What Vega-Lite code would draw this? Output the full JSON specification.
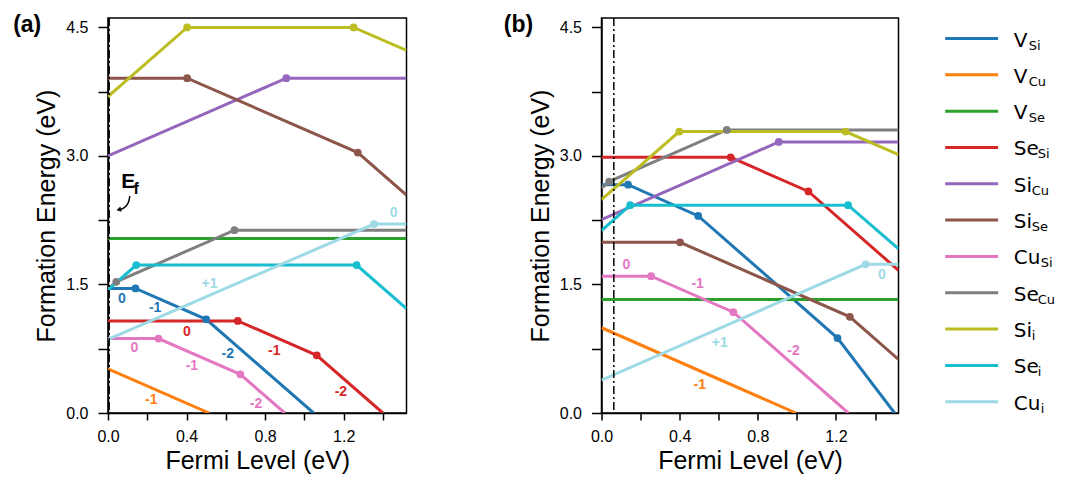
{
  "$schema": "https://vega.github.io/schema/vega-lite/v6.json",
  "padding": {"left": 12, "top": 13, "right": 0, "bottom": 0},
  "background": "white",
  "config": {
    "font": "Liberation Sans",
    "view": {"stroke": "black", "strokeWidth": 1.5},
    "axis": {"grid": false, "domainColor": "black", "domainWidth": 1.5, "tickColor": "black", "tickWidth": 1.5, "labelColor": "black", "labelFont": "Liberation Sans", "labelFontSize": 16, "titleFont": "Liberation Sans", "titleFontSize": 25, "titleFontWeight": "normal", "titleColor": "black"}
  },
  "datasets": {
    "lines": [
      {"panel": "a", "defect": "V_Si", "fermi": 0, "energy": 1.454, "transition": false},
      {"panel": "a", "defect": "V_Si", "fermi": 0.14, "energy": 1.454, "transition": true},
      {"panel": "a", "defect": "V_Si", "fermi": 0.5, "energy": 1.094, "transition": true},
      {"panel": "a", "defect": "V_Si", "fermi": 1.047, "energy": 0, "transition": false},
      {"panel": "a", "defect": "V_Cu", "fermi": 0, "energy": 0.515, "transition": false},
      {"panel": "a", "defect": "V_Cu", "fermi": 0.515, "energy": 0, "transition": false},
      {"panel": "a", "defect": "V_Se", "fermi": 0, "energy": 2.038, "transition": false},
      {"panel": "a", "defect": "V_Se", "fermi": 1.52, "energy": 2.038, "transition": false},
      {"panel": "a", "defect": "Se_Si", "fermi": 0, "energy": 1.075, "transition": false},
      {"panel": "a", "defect": "Se_Si", "fermi": 0.661, "energy": 1.075, "transition": true},
      {"panel": "a", "defect": "Se_Si", "fermi": 1.063, "energy": 0.673, "transition": true},
      {"panel": "a", "defect": "Se_Si", "fermi": 1.3995, "energy": 0, "transition": false},
      {"panel": "a", "defect": "Si_Cu", "fermi": 0, "energy": 3.0, "transition": false},
      {"panel": "a", "defect": "Si_Cu", "fermi": 0.908, "energy": 3.908, "transition": true},
      {"panel": "a", "defect": "Si_Cu", "fermi": 1.52, "energy": 3.908, "transition": false},
      {"panel": "a", "defect": "Si_Se", "fermi": 0, "energy": 3.908, "transition": false},
      {"panel": "a", "defect": "Si_Se", "fermi": 0.403, "energy": 3.908, "transition": true},
      {"panel": "a", "defect": "Si_Se", "fermi": 1.272, "energy": 3.039, "transition": true},
      {"panel": "a", "defect": "Si_Se", "fermi": 1.52, "energy": 2.543, "transition": false},
      {"panel": "a", "defect": "Cu_Si", "fermi": 0, "energy": 0.869, "transition": false},
      {"panel": "a", "defect": "Cu_Si", "fermi": 0.257, "energy": 0.869, "transition": true},
      {"panel": "a", "defect": "Cu_Si", "fermi": 0.674, "energy": 0.452, "transition": true},
      {"panel": "a", "defect": "Cu_Si", "fermi": 0.9, "energy": 0, "transition": false},
      {"panel": "a", "defect": "Se_Cu", "fermi": 0, "energy": 1.447, "transition": false},
      {"panel": "a", "defect": "Se_Cu", "fermi": 0.042, "energy": 1.531, "transition": true},
      {"panel": "a", "defect": "Se_Cu", "fermi": 0.644, "energy": 2.133, "transition": true},
      {"panel": "a", "defect": "Se_Cu", "fermi": 1.52, "energy": 2.133, "transition": false},
      {"panel": "a", "defect": "Si_i", "fermi": 0, "energy": 3.693, "transition": false},
      {"panel": "a", "defect": "Si_i", "fermi": 0.403, "energy": 4.5, "transition": true},
      {"panel": "a", "defect": "Si_i", "fermi": 1.251, "energy": 4.5, "transition": true},
      {"panel": "a", "defect": "Si_i", "fermi": 1.52, "energy": 4.231, "transition": false},
      {"panel": "a", "defect": "Se_i", "fermi": 0, "energy": 1.438, "transition": false},
      {"panel": "a", "defect": "Se_i", "fermi": 0.144, "energy": 1.726, "transition": true},
      {"panel": "a", "defect": "Se_i", "fermi": 1.266, "energy": 1.726, "transition": true},
      {"panel": "a", "defect": "Se_i", "fermi": 1.52, "energy": 1.218, "transition": false},
      {"panel": "a", "defect": "Cu_i", "fermi": 0, "energy": 0.86, "transition": false},
      {"panel": "a", "defect": "Cu_i", "fermi": 1.355, "energy": 2.205, "transition": true},
      {"panel": "a", "defect": "Cu_i", "fermi": 1.52, "energy": 2.205, "transition": false},
      {"panel": "b", "defect": "V_Si", "fermi": 0, "energy": 2.665, "transition": false},
      {"panel": "b", "defect": "V_Si", "fermi": 0.136, "energy": 2.665, "transition": true},
      {"panel": "b", "defect": "V_Si", "fermi": 0.495, "energy": 2.3, "transition": true},
      {"panel": "b", "defect": "V_Si", "fermi": 1.208, "energy": 0.875, "transition": true},
      {"panel": "b", "defect": "V_Si", "fermi": 1.5, "energy": 0, "transition": false},
      {"panel": "b", "defect": "V_Cu", "fermi": 0, "energy": 0.995, "transition": false},
      {"panel": "b", "defect": "V_Cu", "fermi": 0.995, "energy": 0, "transition": false},
      {"panel": "b", "defect": "V_Se", "fermi": 0, "energy": 1.326, "transition": false},
      {"panel": "b", "defect": "V_Se", "fermi": 1.52, "energy": 1.326, "transition": false},
      {"panel": "b", "defect": "Se_Si", "fermi": 0, "energy": 2.984, "transition": false},
      {"panel": "b", "defect": "Se_Si", "fermi": 0.661, "energy": 2.984, "transition": true},
      {"panel": "b", "defect": "Se_Si", "fermi": 1.059, "energy": 2.586, "transition": true},
      {"panel": "b", "defect": "Se_Si", "fermi": 1.52, "energy": 1.664, "transition": false},
      {"panel": "b", "defect": "Si_Cu", "fermi": 0, "energy": 2.256, "transition": false},
      {"panel": "b", "defect": "Si_Cu", "fermi": 0.907, "energy": 3.163, "transition": true},
      {"panel": "b", "defect": "Si_Cu", "fermi": 1.52, "energy": 3.163, "transition": false},
      {"panel": "b", "defect": "Si_Se", "fermi": 0, "energy": 1.992, "transition": false},
      {"panel": "b", "defect": "Si_Se", "fermi": 0.402, "energy": 1.992, "transition": true},
      {"panel": "b", "defect": "Si_Se", "fermi": 1.271, "energy": 1.123, "transition": true},
      {"panel": "b", "defect": "Si_Se", "fermi": 1.52, "energy": 0.625, "transition": false},
      {"panel": "b", "defect": "Cu_Si", "fermi": 0, "energy": 1.597, "transition": false},
      {"panel": "b", "defect": "Cu_Si", "fermi": 0.254, "energy": 1.597, "transition": true},
      {"panel": "b", "defect": "Cu_Si", "fermi": 0.675, "energy": 1.176, "transition": true},
      {"panel": "b", "defect": "Cu_Si", "fermi": 1.263, "energy": 0, "transition": false},
      {"panel": "b", "defect": "Se_Cu", "fermi": 0, "energy": 2.623, "transition": false},
      {"panel": "b", "defect": "Se_Cu", "fermi": 0.039, "energy": 2.701, "transition": true},
      {"panel": "b", "defect": "Se_Cu", "fermi": 0.641, "energy": 3.303, "transition": true},
      {"panel": "b", "defect": "Se_Cu", "fermi": 1.52, "energy": 3.303, "transition": false},
      {"panel": "b", "defect": "Si_i", "fermi": 0, "energy": 2.49, "transition": false},
      {"panel": "b", "defect": "Si_i", "fermi": 0.398, "energy": 3.285, "transition": true},
      {"panel": "b", "defect": "Si_i", "fermi": 1.249, "energy": 3.285, "transition": true},
      {"panel": "b", "defect": "Si_i", "fermi": 1.52, "energy": 3.014, "transition": false},
      {"panel": "b", "defect": "Se_i", "fermi": 0, "energy": 2.128, "transition": false},
      {"panel": "b", "defect": "Se_i", "fermi": 0.147, "energy": 2.426, "transition": true},
      {"panel": "b", "defect": "Se_i", "fermi": 1.262, "energy": 2.426, "transition": true},
      {"panel": "b", "defect": "Se_i", "fermi": 1.52, "energy": 1.916, "transition": false},
      {"panel": "b", "defect": "Cu_i", "fermi": 0, "energy": 0.384, "transition": false},
      {"panel": "b", "defect": "Cu_i", "fermi": 1.351, "energy": 1.735, "transition": true},
      {"panel": "b", "defect": "Cu_i", "fermi": 1.52, "energy": 1.735, "transition": false}
    ],
    "labels": [
      {"panel": "a", "defect": "V_Si", "charge": "0", "fermi": 0.071, "energy": 1.329},
      {"panel": "a", "defect": "V_Si", "charge": "-1", "fermi": 0.24, "energy": 1.22},
      {"panel": "a", "defect": "V_Si", "charge": "-2", "fermi": 0.61, "energy": 0.694},
      {"panel": "a", "defect": "Se_Si", "charge": "0", "fermi": 0.402, "energy": 0.947},
      {"panel": "a", "defect": "Se_Si", "charge": "-1", "fermi": 0.847, "energy": 0.725},
      {"panel": "a", "defect": "Se_Si", "charge": "-2", "fermi": 1.186, "energy": 0.245},
      {"panel": "a", "defect": "Cu_Si", "charge": "0", "fermi": 0.135, "energy": 0.76},
      {"panel": "a", "defect": "Cu_Si", "charge": "-1", "fermi": 0.427, "energy": 0.549},
      {"panel": "a", "defect": "Cu_Si", "charge": "-2", "fermi": 0.754, "energy": 0.11},
      {"panel": "a", "defect": "V_Cu", "charge": "-1", "fermi": 0.22, "energy": 0.148},
      {"panel": "a", "defect": "Cu_i", "charge": "+1", "fermi": 0.517, "energy": 1.504},
      {"panel": "a", "defect": "Cu_i", "charge": "0", "fermi": 1.454, "energy": 2.33},
      {"panel": "b", "defect": "Cu_Si", "charge": "0", "fermi": 0.127, "energy": 1.726},
      {"panel": "b", "defect": "Cu_Si", "charge": "-1", "fermi": 0.492, "energy": 1.507},
      {"panel": "b", "defect": "Cu_Si", "charge": "-2", "fermi": 0.983, "energy": 0.724},
      {"panel": "b", "defect": "Cu_i", "charge": "+1", "fermi": 0.605, "energy": 0.814},
      {"panel": "b", "defect": "Cu_i", "charge": "0", "fermi": 1.435, "energy": 1.605},
      {"panel": "b", "defect": "V_Cu", "charge": "-1", "fermi": 0.503, "energy": 0.329}
    ],
    "legend": [
      {"defect": "V_Si", "main": "V", "sub": "Si"},
      {"defect": "V_Cu", "main": "V", "sub": "Cu"},
      {"defect": "V_Se", "main": "V", "sub": "Se"},
      {"defect": "Se_Si", "main": "Se", "sub": "Si"},
      {"defect": "Si_Cu", "main": "Si", "sub": "Cu"},
      {"defect": "Si_Se", "main": "Si", "sub": "Se"},
      {"defect": "Cu_Si", "main": "Cu", "sub": "Si"},
      {"defect": "Se_Cu", "main": "Se", "sub": "Cu"},
      {"defect": "Si_i", "main": "Si", "sub": "i"},
      {"defect": "Se_i", "main": "Se", "sub": "i"},
      {"defect": "Cu_i", "main": "Cu", "sub": "i"}
    ],
    "arrow": [
      {"fermi": 0.111, "energy": 2.53},
      {"fermi": 0.106, "energy": 2.45},
      {"fermi": 0.083, "energy": 2.39},
      {"fermi": 0.06, "energy": 2.372}
    ]
  },
  "hconcat": [
    {
      "width": 298.5,
      "height": 395,
      "layer": [
        {
          "data": {"name": "lines"},
          "transform": [{"filter": "datum.panel === 'a'"}],
          "mark": {"type": "line", "strokeWidth": 3, "clip": true},
          "encoding": {
            "x": {"field": "fermi", "type": "quantitative", "scale": {"domain": [0, 1.52], "nice": false, "zero": false},
              "axis": {"title": "Fermi Level (eV)", "values": [0, 0.2, 0.4, 0.6, 0.8, 1, 1.2, 1.4], "format": ".1f", "labelExpr": "round(datum.value*10) % 4 == 0 ? datum.label : ''", "tickSize": 7, "labelPadding": 8, "titlePadding": 4, "labelFlush": false, "labelOverlap": false}},
            "y": {"field": "energy", "type": "quantitative", "scale": {"domain": [0, 4.61], "nice": false, "zero": false},
              "axis": {"title": "Formation Energy (eV)", "orient": "left", "values": [0, 0.75, 1.5, 2.25, 3, 3.75, 4.5], "format": ".1f", "labelExpr": "round(datum.value*100) % 150 == 0 ? datum.label : ''", "tickSize": 10, "labelPadding": 10, "titlePadding": 6, "labelFlush": false, "labelOverlap": false}},
            "color": {"field": "defect", "type": "nominal", "legend": null,
              "scale": {"domain": ["V_Si", "V_Cu", "V_Se", "Se_Si", "Si_Cu", "Si_Se", "Cu_Si", "Se_Cu", "Si_i", "Se_i", "Cu_i"], "range": ["#1f77b4", "#ff7f0e", "#2ca02c", "#d62728", "#9467bd", "#8c564b", "#e377c2", "#7f7f7f", "#bcbd22", "#17becf", "#9edae5"]}}
          }
        },
        {
          "data": {"name": "lines"},
          "transform": [{"filter": "datum.panel === 'a' && datum.transition"}],
          "mark": {"type": "circle", "size": 60, "opacity": 1},
          "encoding": {
            "x": {"field": "fermi", "type": "quantitative", "scale": {"domain": [0, 1.52], "nice": false, "zero": false}},
            "y": {"field": "energy", "type": "quantitative", "scale": {"domain": [0, 4.61], "nice": false, "zero": false}},
            "color": {"field": "defect", "type": "nominal", "legend": null}
          }
        },
        {
          "data": {"values": [{}]},
          "mark": {"type": "rule", "color": "black", "strokeWidth": 1.5, "strokeDash": [8, 3, 2, 3]},
          "encoding": {"x": {"datum": 0.006, "type": "quantitative", "scale": {"domain": [0, 1.52], "nice": false, "zero": false}}}
        },
        {
          "data": {"name": "labels"},
          "transform": [{"filter": "datum.panel === 'a'"}],
          "mark": {"type": "text", "fontWeight": "bold", "fontSize": 14, "font": "Liberation Sans"},
          "encoding": {
            "x": {"field": "fermi", "type": "quantitative", "scale": {"domain": [0, 1.52], "nice": false, "zero": false}},
            "y": {"field": "energy", "type": "quantitative", "scale": {"domain": [0, 4.61], "nice": false, "zero": false}},
            "color": {"field": "defect", "type": "nominal", "legend": null},
            "text": {"field": "charge"}
          }
        },
        {
          "data": {"values": [{}]},
          "mark": {"type": "text", "text": "(a)", "fontSize": 23, "fontWeight": "bold", "align": "left", "baseline": "middle", "color": "black"},
          "encoding": {
            "x": {"datum": -0.483, "type": "quantitative", "scale": {"domain": [0, 1.52], "nice": false, "zero": false}},
            "y": {"datum": 4.531, "type": "quantitative", "scale": {"domain": [0, 4.61], "nice": false, "zero": false}}
          }
        },
        {
          "data": {"values": [{}]},
          "mark": {"type": "text", "text": "E", "fontSize": 21, "fontWeight": "bold", "align": "left", "baseline": "alphabetic", "color": "black"},
          "encoding": {
            "x": {"datum": 0.0676, "type": "quantitative", "scale": {"domain": [0, 1.52], "nice": false, "zero": false}},
            "y": {"datum": 2.623, "type": "quantitative", "scale": {"domain": [0, 4.61], "nice": false, "zero": false}}
          }
        },
        {
          "data": {"values": [{}]},
          "mark": {"type": "text", "text": "f", "fontSize": 16, "fontWeight": "bold", "align": "left", "baseline": "alphabetic", "color": "black"},
          "encoding": {
            "x": {"datum": 0.13, "type": "quantitative", "scale": {"domain": [0, 1.52], "nice": false, "zero": false}},
            "y": {"datum": 2.553, "type": "quantitative", "scale": {"domain": [0, 4.61], "nice": false, "zero": false}}
          }
        },
        {
          "data": {"name": "arrow"},
          "mark": {"type": "line", "color": "black", "strokeWidth": 1.5, "interpolate": "basis"},
          "encoding": {
            "x": {"field": "fermi", "type": "quantitative", "scale": {"domain": [0, 1.52], "nice": false, "zero": false}},
            "y": {"field": "energy", "type": "quantitative", "scale": {"domain": [0, 4.61], "nice": false, "zero": false}}
          }
        },
        {
          "data": {"values": [{}]},
          "mark": {"type": "point", "shape": "triangle-left", "filled": true, "color": "black", "size": 28, "angle": -15, "opacity": 1},
          "encoding": {
            "x": {"datum": 0.055, "type": "quantitative", "scale": {"domain": [0, 1.52], "nice": false, "zero": false}},
            "y": {"datum": 2.372, "type": "quantitative", "scale": {"domain": [0, 4.61], "nice": false, "zero": false}}
          }
        }
      ]
    },
    {
      "width": 297,
      "height": 395,
      "resolve": {"scale": {"y": "independent"}, "axis": {"y": "independent"}},
      "layer": [
        {
          "layer": [
            {
              "data": {"name": "lines"},
              "transform": [{"filter": "datum.panel === 'b'"}],
              "mark": {"type": "line", "strokeWidth": 3, "clip": true},
              "encoding": {
                "x": {"field": "fermi", "type": "quantitative", "scale": {"domain": [0, 1.52], "nice": false, "zero": false},
                  "axis": {"title": "Fermi Level (eV)", "values": [0, 0.2, 0.4, 0.6, 0.8, 1, 1.2, 1.4], "format": ".1f", "labelExpr": "round(datum.value*10) % 4 == 0 ? datum.label : ''", "tickSize": 7, "labelPadding": 8, "titlePadding": 4, "labelFlush": false, "labelOverlap": false}},
                "y": {"field": "energy", "type": "quantitative", "scale": {"domain": [0, 4.61], "nice": false, "zero": false},
                  "axis": {"title": "Formation Energy (eV)", "orient": "left", "values": [0, 0.75, 1.5, 2.25, 3, 3.75, 4.5], "format": ".1f", "labelExpr": "round(datum.value*100) % 150 == 0 ? datum.label : ''", "tickSize": 10, "labelPadding": 10, "titlePadding": 6, "labelFlush": false, "labelOverlap": false}},
                "color": {"field": "defect", "type": "nominal", "legend": null}
              }
            },
            {
              "data": {"name": "lines"},
              "transform": [{"filter": "datum.panel === 'b' && datum.transition"}],
              "mark": {"type": "circle", "size": 60, "opacity": 1},
              "encoding": {
                "x": {"field": "fermi", "type": "quantitative", "scale": {"domain": [0, 1.52], "nice": false, "zero": false}},
                "y": {"field": "energy", "type": "quantitative", "scale": {"domain": [0, 4.61], "nice": false, "zero": false}},
                "color": {"field": "defect", "type": "nominal", "legend": null}
              }
            },
            {
              "data": {"values": [{}]},
              "mark": {"type": "rule", "color": "black", "strokeWidth": 1.5, "strokeDash": [8, 3, 2, 3]},
              "encoding": {"x": {"datum": 0.063, "type": "quantitative", "scale": {"domain": [0, 1.52], "nice": false, "zero": false}}}
            },
            {
              "data": {"name": "labels"},
              "transform": [{"filter": "datum.panel === 'b'"}],
              "mark": {"type": "text", "fontWeight": "bold", "fontSize": 14, "font": "Liberation Sans"},
              "encoding": {
                "x": {"field": "fermi", "type": "quantitative", "scale": {"domain": [0, 1.52], "nice": false, "zero": false}},
                "y": {"field": "energy", "type": "quantitative", "scale": {"domain": [0, 4.61], "nice": false, "zero": false}},
                "color": {"field": "defect", "type": "nominal", "legend": null},
                "text": {"field": "charge"}
              }
            },
            {
              "data": {"values": [{}]},
              "mark": {"type": "text", "text": "(b)", "fontSize": 23, "fontWeight": "bold", "align": "left", "baseline": "middle", "color": "black"},
              "encoding": {
                "x": {"datum": -0.5, "type": "quantitative", "scale": {"domain": [0, 1.52], "nice": false, "zero": false}},
                "y": {"datum": 4.531, "type": "quantitative", "scale": {"domain": [0, 4.61], "nice": false, "zero": false}}
              }
            }
          ]
        },
        {
          "data": {"name": "legend"},
          "layer": [
            {
              "mark": {"type": "rule", "strokeWidth": 3},
              "encoding": {
                "x": {"datum": 1.759, "type": "quantitative", "scale": {"domain": [0, 1.52], "nice": false, "zero": false}},
                "x2": {"datum": 2.03},
                "y": {"field": "defect", "type": "nominal", "axis": null, "scale": {"type": "point", "domain": ["V_Si", "V_Cu", "V_Se", "Se_Si", "Si_Cu", "Si_Se", "Cu_Si", "Se_Cu", "Si_i", "Se_i", "Cu_i"], "range": [20.5, 383.7], "padding": 0}},
                "color": {"field": "defect", "type": "nominal", "legend": null}
              }
            },
            {
              "mark": {"type": "text", "align": "left", "baseline": "alphabetic", "dy": 8, "fontSize": 20, "font": "DejaVu Sans", "color": "black"},
              "encoding": {
                "x": {"datum": 2.11, "type": "quantitative", "scale": {"domain": [0, 1.52], "nice": false, "zero": false}},
                "y": {"field": "defect", "type": "nominal", "axis": null},
                "text": {"field": "main"}
              }
            },
            {
              "transform": [{"filter": "datum.main === 'V'"}],
              "mark": {"type": "text", "align": "left", "baseline": "alphabetic", "dy": 11, "dx": 15, "fontSize": 13, "font": "DejaVu Sans", "color": "black"},
              "encoding": {
                "x": {"datum": 2.11, "type": "quantitative", "scale": {"domain": [0, 1.52], "nice": false, "zero": false}},
                "y": {"field": "defect", "type": "nominal", "axis": null},
                "text": {"field": "sub"}
              }
            },
            {
              "transform": [{"filter": "datum.main === 'Se'"}],
              "mark": {"type": "text", "align": "left", "baseline": "alphabetic", "dy": 11, "dx": 24, "fontSize": 13, "font": "DejaVu Sans", "color": "black"},
              "encoding": {
                "x": {"datum": 2.11, "type": "quantitative", "scale": {"domain": [0, 1.52], "nice": false, "zero": false}},
                "y": {"field": "defect", "type": "nominal", "axis": null},
                "text": {"field": "sub"}
              }
            },
            {
              "transform": [{"filter": "datum.main === 'Si'"}],
              "mark": {"type": "text", "align": "left", "baseline": "alphabetic", "dy": 11, "dx": 18, "fontSize": 13, "font": "DejaVu Sans", "color": "black"},
              "encoding": {
                "x": {"datum": 2.11, "type": "quantitative", "scale": {"domain": [0, 1.52], "nice": false, "zero": false}},
                "y": {"field": "defect", "type": "nominal", "axis": null},
                "text": {"field": "sub"}
              }
            },
            {
              "transform": [{"filter": "datum.main === 'Cu'"}],
              "mark": {"type": "text", "align": "left", "baseline": "alphabetic", "dy": 11, "dx": 27, "fontSize": 13, "font": "DejaVu Sans", "color": "black"},
              "encoding": {
                "x": {"datum": 2.11, "type": "quantitative", "scale": {"domain": [0, 1.52], "nice": false, "zero": false}},
                "y": {"field": "defect", "type": "nominal", "axis": null},
                "text": {"field": "sub"}
              }
            }
          ]
        }
      ]
    }
  ],
  "spacing": 194.5,
  "bounds": "flush"
}
